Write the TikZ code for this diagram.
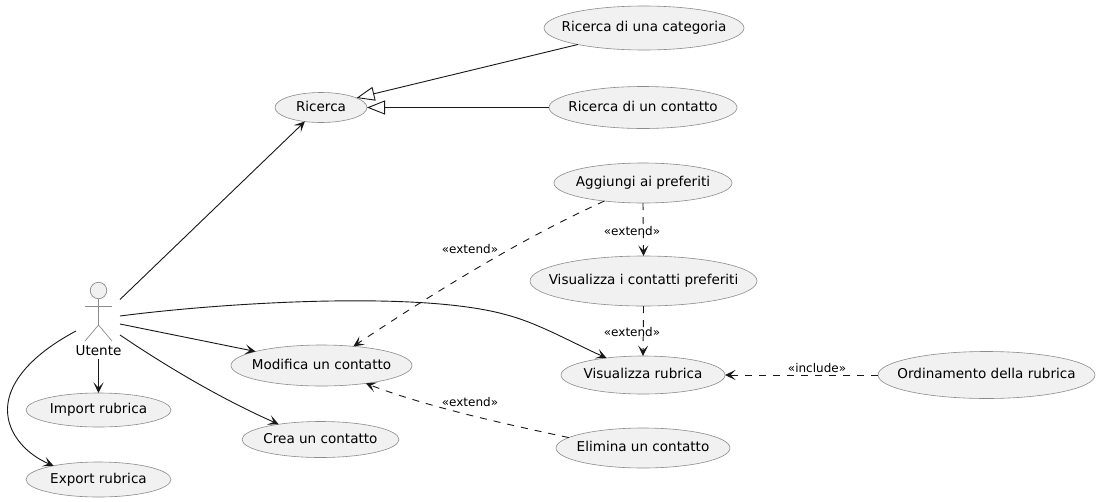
\documentclass[tikz,border=0pt]{standalone}
\usepackage{fontspec}
\setmainfont{DejaVu Sans}
\usetikzlibrary{shapes.geometric,arrows.meta}
\definecolor{ucfill}{HTML}{F1F1F1}
\definecolor{ucline}{HTML}{8C8C8C}
\definecolor{edgeink}{HTML}{181818}
\newcommand{\uctext}[1]{\raisebox{-0.36em}[0pt][0pt]{\makebox[0pt]{\fontsize{13.55}{15}\selectfont #1}}}
\tikzset{
  usecase/.style={ellipse,draw=ucline,fill=ucfill,line width=0.6pt,inner sep=0pt,outer sep=0pt},
  edge/.style={draw=edgeink,line width=0.9pt,-{Stealth[length=10.5pt,width=10pt,inset=5pt]}},
  dashedge/.style={edge,dash pattern=on 7pt off 7pt},
  gen/.style={draw=edgeink,line width=0.9pt,-{Triangle[open,fill=white,length=18pt,width=14pt]}},
  stereo/.style={font=\fontsize{12}{14}\selectfont,inner sep=0pt,text=black},
  actorline/.style={draw=ucline,line width=0.7pt}
}
\begin{document}
\begin{tikzpicture}[x=1pt,y=-1pt]
\useasboundingbox[fill=white] (0,0) rectangle (1099,501);
% use cases
\node[usecase,minimum width=200pt,minimum height=44pt] (categ) at (644,28) {\uctext{Ricerca di una categoria}};
\node[usecase,minimum width=188pt,minimum height=42pt] (cont) at (643,107.5) {\uctext{Ricerca di un contatto}};
\node[usecase,minimum width=92pt,minimum height=30pt] (ric) at (321,107.5) {\uctext{Ricerca}};
\node[usecase,minimum width=178pt,minimum height=40pt] (pref) at (643,183) {\uctext{Aggiungi ai preferiti}};
\node[usecase,minimum width=227pt,minimum height=50pt] (vispref) at (643.5,281) {\uctext{Visualizza i contatti preferiti}};
\node[usecase,minimum width=164pt,minimum height=38pt] (vis) at (643,375) {\uctext{Visualizza rubrica}};
\node[usecase,minimum width=217pt,minimum height=47pt] (ord) at (986.5,375) {\uctext{Ordinamento della rubrica}};
\node[usecase,minimum width=174pt,minimum height=40pt] (del) at (643,448) {\uctext{Elimina un contatto}};
\node[usecase,minimum width=181pt,minimum height=41pt] (mod) at (321.5,365.5) {\uctext{Modifica un contatto}};
\node[usecase,minimum width=157pt,minimum height=36pt] (crea) at (320.5,439.5) {\uctext{Crea un contatto}};
\node[usecase,minimum width=145pt,minimum height=34pt] (imp) at (98.5,410) {\uctext{Import rubrica}};
\node[usecase,minimum width=145pt,minimum height=35pt] (exp) at (98.5,479.5) {\uctext{Export rubrica}};
% actor
\node[circle,draw=ucline,fill=ucfill,line width=0.7pt,minimum size=16.5pt,inner sep=0pt] (head) at (98.5,290.5) {};
\coordinate (hip) at (98.5,325);
\draw[actorline] (head.south) -- (hip);
\coordinate (armL) at (85,306);
\coordinate (armR) at (112,306);
\coordinate (legL) at (85,341);
\coordinate (legR) at (112,341);
\draw[actorline] (armL) -- (armR);
\draw[actorline] (legL) -- (hip) -- (legR);
\node[inner sep=0pt,font=\fontsize{13.55}{15}\selectfont] (ut) at (98.5,351) {Utente};
% actor ports
\coordinate (a1) at (120,299.5);
\coordinate (a2) at (120,316);
\coordinate (a3) at (120,324);
\coordinate (a4) at (120,335);
\coordinate (a5) at (76,331);
\coordinate (utb) at (98.5,359);
\coordinate (bend) at (507,315);
\coordinate (left) at (7.5,410);
% actor connectors
\draw[edge] (a1) -- (ric.221);
\draw[edge] (a2) .. controls (220,303) and (420,290) .. (bend) .. controls (538,323) and (575,344) .. (vis.155);
\draw[edge] (a3) -- (mod.168);
\draw[edge] (a4) .. controls (160,362) and (215,396) .. (crea.160);
\draw[edge] (utb) -- (imp.north);
\draw[edge] (a5) .. controls (40,350) and (7.5,378) .. (left) .. controls (7.5,435) and (28,455) .. (exp.163);
% generalisations
\draw[gen] (categ.194) -- (ric.15);
\draw[gen] (cont.west) -- (ric.east);
% dependencies
\draw[dashedge] (pref.205) .. controls (519,240) and (435,292) .. (mod.31.5);
\draw[dashedge] (del.172) .. controls (500,423) and (425,406) .. (mod.-22);
\draw[dashedge] (pref.south) -- (vispref.north);
\draw[dashedge] (vispref.south) -- (vis.north);
\draw[dashedge] (ord.west) -- (vis.east);
% labels
\node[stereo] (l1) at (470,249) {«extend»};
\node[stereo] (l2) at (632,231) {«extend»};
\node[stereo] (l3) at (632,332) {«extend»};
\node[stereo] (l4) at (817,368) {«include»};
\node[stereo] (l5) at (470,402) {«extend»};
\end{tikzpicture}
\end{document}
